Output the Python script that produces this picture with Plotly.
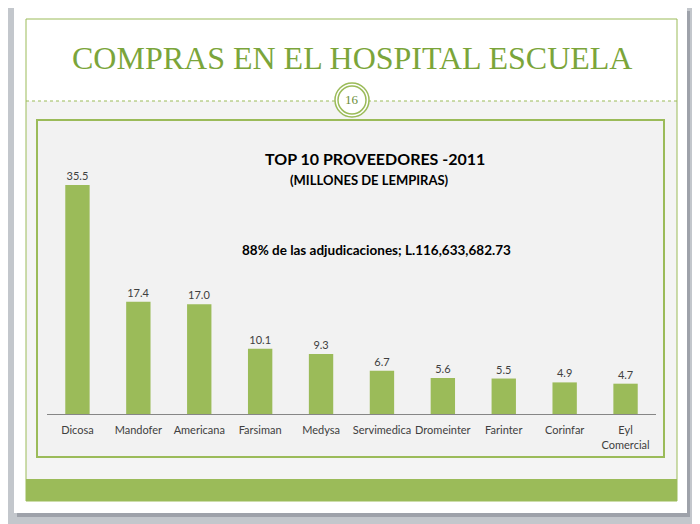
import plotly.graph_objects as go

# datos
proveedores = ["Dicosa", "Mandofer", "Americana", "Farsiman", "Medysa",
               "Servimedica", "Dromeinter", "Farinter", "Corinfar", "Eyl<br>Comercial"]
millones = [35.5, 17.4, 17.0, 10.1, 9.3, 6.7, 5.6, 5.5, 4.9, 4.7]

titulo = "COMPRAS EN EL HOSPITAL ESCUELA"
subtitulo1 = "TOP 10 PROVEEDORES -2011"
subtitulo2 = "(MILLONES DE LEMPIRAS)"
nota = "88% de las adjudicaciones; L.116,633,682.73"
pagina = "16"

W, H = 700, 524
OFF = 8  # margen del body de la pagina
GREEN = "#9BBB59"
FONT = "Lato"


def fx(x):
    return (x - OFF) / W


def fy(y):
    return 1 - (y - OFF) / H


def rect(x0, y0, x1, y1, fill, line=None, lw=0, **kw):
    d = dict(type="rect", xref="paper", yref="paper",
             x0=fx(x0), x1=fx(x1), y0=fy(y1), y1=fy(y0),
             fillcolor=fill, line=dict(color=line or fill, width=lw), layer="below")
    d.update(kw)
    return d


fig = go.Figure()
fig.add_trace(go.Bar(
    x=proveedores, y=millones,
    marker_color=GREEN, marker_line_width=0,
    texttemplate="%{y:.1f}", textposition="outside",
    textfont=dict(size=11, color="#404040", family=FONT),
    cliponaxis=False, hoverinfo="skip"
))

shapes = [
    # sombra y diapositiva
    rect(17, 11, 690, 517, "rgba(90,95,105,0.35)"),
    rect(14, 8, 687, 513, "white"),
    # zona con trama
    rect(26, 101, 677, 479, "#F4F4F4"),
    # marco interior
    dict(type="rect", xref="paper", yref="paper", x0=fx(26), x1=fx(677),
         y0=fy(501), y1=fy(19), line=dict(color=GREEN, width=1), layer="below"),
    # banda inferior
    rect(26, 479, 677, 501, GREEN),
    # linea punteada
    dict(type="line", xref="paper", yref="paper", x0=fx(26), x1=fx(677),
         y0=fy(101), y1=fy(101), line=dict(color=GREEN, width=1, dash="dot"), layer="below"),
    # caja del grafico
    rect(37, 120, 664, 457, "#F2F2F2", GREEN, 2),
    # circulo de pagina
    dict(type="circle", xref="paper", yref="paper", x0=fx(335), x1=fx(369),
         y0=fy(117), y1=fy(83), fillcolor="white", line=dict(color=GREEN, width=1.5), layer="below"),
    dict(type="circle", xref="paper", yref="paper", x0=fx(338), x1=fx(366),
         y0=fy(114), y1=fy(86), fillcolor="white", line=dict(color=GREEN, width=1.5), layer="below"),
]

annotations = [
    dict(text=titulo, x=fx(352), y=fy(58), font=dict(family="Liberation Serif", size=32, color="#7BA53A")),
    dict(text=pagina, x=fx(352), y=fy(100), font=dict(family="Liberation Serif", size=13, color="#6B8E3A")),
    dict(text="<b>" + subtitulo1 + "</b>", x=fx(375), y=fy(158), font=dict(family=FONT, size=16, color="black")),
    dict(text="<b>" + subtitulo2 + "</b>", x=fx(369), y=fy(180), font=dict(family=FONT, size=13, color="black")),
    dict(text="<b>" + nota + "</b>", x=fx(376), y=fy(250), font=dict(family=FONT, size=13.5, color="black")),
]
for a in annotations:
    a.update(xref="paper", yref="paper", xanchor="center", yanchor="middle", showarrow=False)

fig.update_layout(
    width=W, height=H, margin=dict(l=0, r=0, t=0, b=0),
    paper_bgcolor="#C3C7CC", plot_bgcolor="rgba(0,0,0,0)",
    bargap=0.6, showlegend=False,
    shapes=shapes, annotations=annotations,
    font=dict(family=FONT, size=11, color="#404040"),
)
fig.update_xaxes(domain=[fx(47), fx(656)], showline=True, linecolor="#868686", linewidth=1,
                 ticks="outside", ticklen=6, tickcolor="rgba(0,0,0,0)",
                 tickfont=dict(size=11, color="#404040", family=FONT), fixedrange=True)
fig.update_yaxes(domain=[fy(414), fy(135)], range=[0, (414 - 135) / 6.45],
                 visible=False, showgrid=False, fixedrange=True)

fig.write_html("out.html")
